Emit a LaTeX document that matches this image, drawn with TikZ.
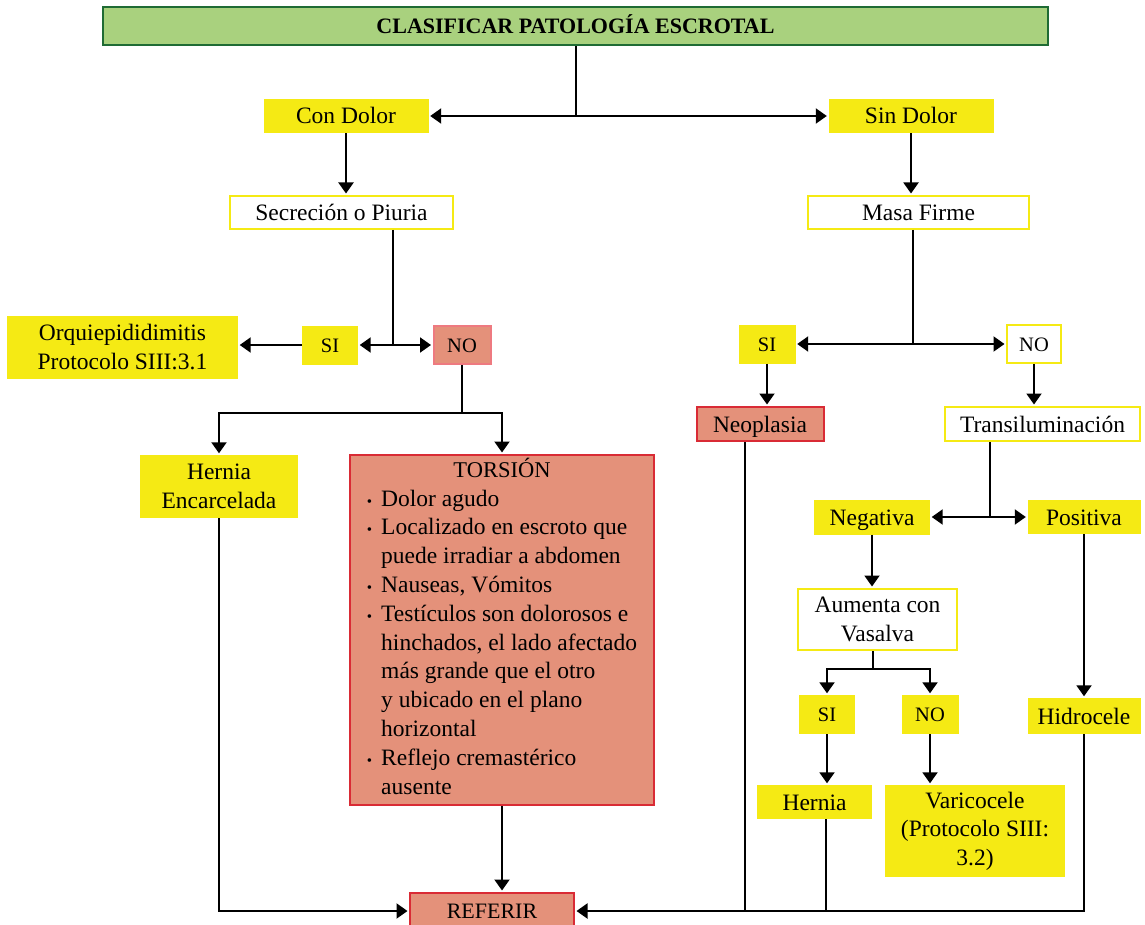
\documentclass[tikz,border=0pt]{standalone}
\usepackage{fontspec}
\setmainfont{Liberation Serif}
\usetikzlibrary{arrows.meta}
\definecolor{yel}{HTML}{F5EA14}
\definecolor{sal}{HTML}{E4917A}
\definecolor{redb}{HTML}{D92B35}
\definecolor{pinkb}{HTML}{EE7A80}
\definecolor{grn}{HTML}{A9D17E}
\definecolor{dgrn}{HTML}{1F6B34}
\newcommand{\sbul}{{\fontsize{15}{15}\selectfont\textbullet}}
\begin{document}
\begin{tikzpicture}[x=1pt,y=-1pt,
  base/.style={inner sep=0pt, align=center, font=\fontsize{23.5}{28.5}\selectfont},
  one/.style={text height=16pt, text depth=0pt},
  small/.style={font=\fontsize{20.5}{24}\selectfont, text height=14pt, text depth=0pt},
  ybox/.style={base, fill=yel},
  wbox/.style={base, fill=white, draw=yel, line width=2pt},
  sbox/.style={base, fill=sal, draw=redb, line width=2pt},
  ln/.style={line width=2pt},
  tip/.tip={Triangle[width=15pt,length=11pt]},
  arr/.style={ln, -tip, shorten >=1.5pt},
  dbl/.style={ln, tip-tip, shorten >=1.5pt, shorten <=1.5pt},
]
\useasboundingbox (0,0) rectangle (1145,925);

% nodes
\node[base, fill=grn, draw=dgrn, line width=2.5pt, minimum width=945pt, minimum height=38pt,
      text height=15pt, text depth=0pt,
      font=\bfseries\fontsize{22}{24}\selectfont] (title) at (575.5,26) {CLASIFICAR PATOLOGÍA ESCROTAL};
\node[ybox, one, minimum width=165pt, minimum height=34pt] (cd) at (346,116) {Con Dolor};
\node[ybox, one, minimum width=165pt, minimum height=34pt] (sd) at (911,116) {Sin Dolor};
\node[wbox, one, minimum width=223pt, minimum height=33pt] (sec) at (341.5,212.5) {Secreción o Piuria};
\node[wbox, one, minimum width=221pt, minimum height=33pt] (mf) at (918.5,212.5) {Masa Firme};
\node[ybox, minimum width=231pt, minimum height=63pt] (orq) at (122.5,347) {Orquiepididimitis\\Protocolo SIII:3.1};
\node[ybox, small, minimum width=56pt, minimum height=39pt] (siL) at (330,345) {SI};
\node[sbox, small, draw=pinkb, minimum width=57pt, minimum height=38pt] (noL) at (462,345) {NO};
\node[ybox, small, minimum width=57pt, minimum height=39pt] (siR) at (767,344) {SI};
\node[wbox, small, minimum width=54pt, minimum height=38pt] (noR) at (1034,344) {NO};
\node[ybox, minimum width=158pt, minimum height=63pt] (hen) at (219,486.5) {Hernia\\Encarcelada};
\node[sbox, minimum width=304pt, minimum height=350pt] (tor) at (502,630) {%
  \fontsize{23.5}{28.8}\selectfont
  \begin{tabular}{@{}c@{\hspace{9pt}}l@{}}
  \multicolumn{2}{c}{\fontsize{22.5}{28.8}\selectfont TORSIÓN}\\
  \sbul & Dolor agudo\\
  \sbul & Localizado en escroto que\\
        & puede irradiar a abdomen\\
  \sbul & Nauseas, Vómitos\\
  \sbul & Testículos son dolorosos e\\
        & hinchados, el lado afectado\\
        & más grande que el otro\\
        & y ubicado en el plano\\
        & horizontal\\
  \sbul & Reflejo cremastérico\\
        & ausente
  \end{tabular}};
\node[sbox, one, minimum width=127pt, minimum height=34pt] (neo) at (760,424) {Neoplasia};
\node[wbox, one, minimum width=195pt, minimum height=34pt] (tra) at (1042.5,424) {Transiluminación};
\node[ybox, one, minimum width=116pt, minimum height=35pt] (neg) at (872,517) {Negativa};
\node[ybox, one, minimum width=113pt, minimum height=34pt] (pos) at (1084,517) {Positiva};
\node[wbox, minimum width=159pt, minimum height=61pt] (aum) at (877.5,619.5) {Aumenta con\\Vasalva};
\node[ybox, small, minimum width=56pt, minimum height=39pt] (siV) at (827,714.5) {SI};
\node[ybox, small, minimum width=57pt, minimum height=39pt] (noV) at (930,714.5) {NO};
\node[ybox, one, minimum width=115pt, minimum height=34pt] (her) at (814.5,802) {Hernia};
\node[ybox, minimum width=180pt, minimum height=92pt] (var) at (975,831) {Varicocele\\(Protocolo SIII:\\3.2)};
\node[ybox, one, minimum width=113pt, minimum height=36pt] (hid) at (1084,716) {Hidrocele};
\node[sbox, font=\fontsize{22}{26}\selectfont, text height=15pt, text depth=0pt,
      minimum width=164pt, minimum height=36pt] (ref) at (492,911) {REFERIR};

% junction points
\coordinate (jL) at (393,345);
\coordinate (bL) at (462,413);
\coordinate (jR) at (913,344);
\coordinate (jT) at (990,517);
\coordinate (jA) at (873,669);
\coordinate (jN) at (745,911);
\coordinate (jH) at (826,911);

% connectors
\draw[ln] (title.south) -- (title.south |- cd.east);
\draw[dbl] (cd.east) -- (sd.west);
\draw[arr] (cd.south) -- (cd.south |- sec.north);
\draw[arr] (sd.south) -- (sd.south |- mf.north);

\draw[ln] (sec.south -| jL) -- (jL);
\draw[dbl] (siL.east) -- (noL.west);
\draw[arr] (siL.west) -- (siL.west -| orq.east);
\draw[ln] (noL.south) -- (bL);
\draw[arr] (bL) -| (hen.north);
\draw[arr] (bL) -| (tor.north);
\draw[arr] (hen.south) |- (ref.west);
\draw[arr] (tor.south) -- (tor.south |- ref.north);

\draw[ln] (mf.south -| jR) -- (jR);
\draw[dbl] (siR.east) -- (noR.west);
\draw[arr] (siR.south) -- (siR.south |- neo.north);
\draw[arr] (noR.south) -- (noR.south |- tra.north);
\draw[ln] (tra.south -| jT) -- (jT);
\draw[dbl] (neg.east) -- (pos.west);
\draw[arr] (neg.south) -- (neg.south |- aum.north);
\draw[ln] (aum.south -| jA) -- (jA);
\draw[arr] (jA) -| (siV.north);
\draw[arr] (jA) -| (noV.north);
\draw[arr] (siV.south) -- (siV.south |- her.north);
\draw[arr] (noV.south) -- (noV.south |- var.north);
\draw[arr] (pos.south) -- (pos.south |- hid.north);

\draw[arr] (hid.south) |- (ref.east);
\draw[ln] (neo.south -| jN) -- (jN);
\draw[ln] (her.south -| jH) -- (jH);
\end{tikzpicture}
\end{document}
